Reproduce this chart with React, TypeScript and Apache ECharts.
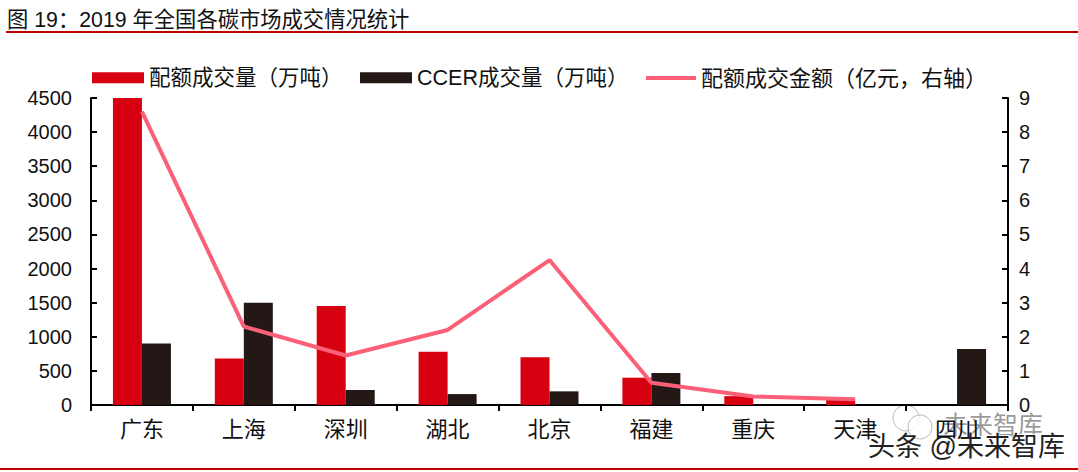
import React, { useEffect, useRef } from "react";
import * as echarts from "echarts";

const categories = ["广东", "上海", "深圳", "湖北", "北京", "福建", "重庆", "天津", "四川"];
const quotaVolume = [4500, 680, 1450, 780, 700, 400, 130, 80, 0];
const ccerVolume = [900, 1500, 220, 160, 200, 470, 0, 0, 820];
const quotaAmount = [8.6, 2.3, 1.45, 2.2, 4.25, 0.65, 0.25, 0.17, null];
const leftTicks = { min: 0, max: 4500, interval: 500 };
const rightTicks = { min: 0, max: 9, interval: 1 };
const titleText = "图 19：2019 年全国各碳市场成交情况统计";
const FONT = '"Liberation Sans","Noto Sans CJK SC",sans-serif';

export default function App() {
  const ref = useRef<HTMLDivElement>(null);
  useEffect(() => {
    document.body.style.margin = "0";
    const chart = echarts.init(ref.current!, null, { renderer: "svg" });
    const legendText = { fontFamily: FONT, fontSize: 21.5, color: "#111" };
    const axisLine = { show: true, lineStyle: { color: "#000", width: 2 } };
    chart.setOption({
      animation: false,
      backgroundColor: "#fff",
      textStyle: { fontFamily: FONT },
      grid: { left: 91, right: 70, top: 98, bottom: 67 },
      legend: [
        { data: ["配额成交量（万吨）"], left: 92, top: 67, icon: "rect", itemWidth: 52, itemHeight: 11, itemGap: 5, textStyle: legendText, padding: 0 },
        { data: ["CCER成交量（万吨）"], left: 360, top: 67, icon: "rect", itemWidth: 52, itemHeight: 11, itemGap: 5, textStyle: legendText, padding: 0 },
        { data: ["配额成交金额（亿元，右轴）"], left: 646, top: 67, icon: "rect", itemWidth: 50, itemHeight: 4, itemGap: 7, textStyle: { ...legendText, fontSize: 22 }, padding: 0 },
      ],
      xAxis: {
        type: "category",
        data: categories,
        axisLine,
        axisTick: { show: true, inside: false, length: 6, alignWithLabel: false, lineStyle: { color: "#000", width: 2 } },
        axisLabel: { fontFamily: FONT, fontSize: 22, color: "#111", margin: 13 },
      },
      yAxis: [
        {
          type: "value",
          ...leftTicks,
          splitLine: { show: false },
          axisLine,
          axisTick: { show: true, inside: true, length: 6, lineStyle: { color: "#000", width: 2 } },
          axisLabel: { fontFamily: FONT, fontSize: 20, color: "#111", margin: 19, formatter: (v: number) => String(v) },
        },
        {
          type: "value",
          ...rightTicks,
          position: "right",
          splitLine: { show: false },
          axisLine,
          axisTick: { show: true, inside: true, length: 6, lineStyle: { color: "#000", width: 2 } },
          axisLabel: { fontFamily: FONT, fontSize: 20, color: "#111", margin: 11 },
        },
      ],
      series: [
        { name: "配额成交量（万吨）", type: "bar", data: quotaVolume, barWidth: 29, barGap: "0%", itemStyle: { color: "#d70010" } },
        { name: "CCER成交量（万吨）", type: "bar", data: ccerVolume, barWidth: 29, barGap: "0%", itemStyle: { color: "#231815" } },
        {
          name: "配额成交金额（亿元，右轴）",
          type: "line",
          yAxisIndex: 1,
          data: quotaAmount,
          symbol: "none",
          connectNulls: false,
          itemStyle: { color: "#fb6078" },
          lineStyle: { color: "#fb6078", width: 4 },
        },
      ],
      graphic: [
        { type: "text", x: 7, y: 9, style: { text: titleText, fontFamily: FONT, fontSize: 21.3, fill: "#111" } },
        { type: "rect", shape: { x: 6, y: 31, width: 1072, height: 2 }, style: { fill: "#c00000" } },
        { type: "rect", shape: { x: 0, y: 468, width: 1078, height: 2 }, style: { fill: "#c00000" } },
        { type: "circle", shape: { cx: 906, cy: 418, r: 13 }, style: { fill: "rgba(255,255,255,0.6)", stroke: "#bbb", lineWidth: 1 } },
        { type: "circle", shape: { cx: 920, cy: 427, r: 12 }, style: { fill: "rgba(255,255,255,0.8)", stroke: "#bbb", lineWidth: 1 } },
        { type: "text", x: 943, y: 412, style: { text: "未来智库", fontFamily: FONT, fontSize: 25, fill: "rgba(120,120,120,0.75)" } },
        { type: "text", x: 868, y: 433, style: { text: "头条 @未来智库", fontFamily: FONT, fontSize: 27, fill: "#222", stroke: "#fff", lineWidth: 1.5 } },
      ],
    });
    return () => chart.dispose();
  }, []);
  return <div ref={ref} style={{ width: 1078, height: 472 }} />;
}
